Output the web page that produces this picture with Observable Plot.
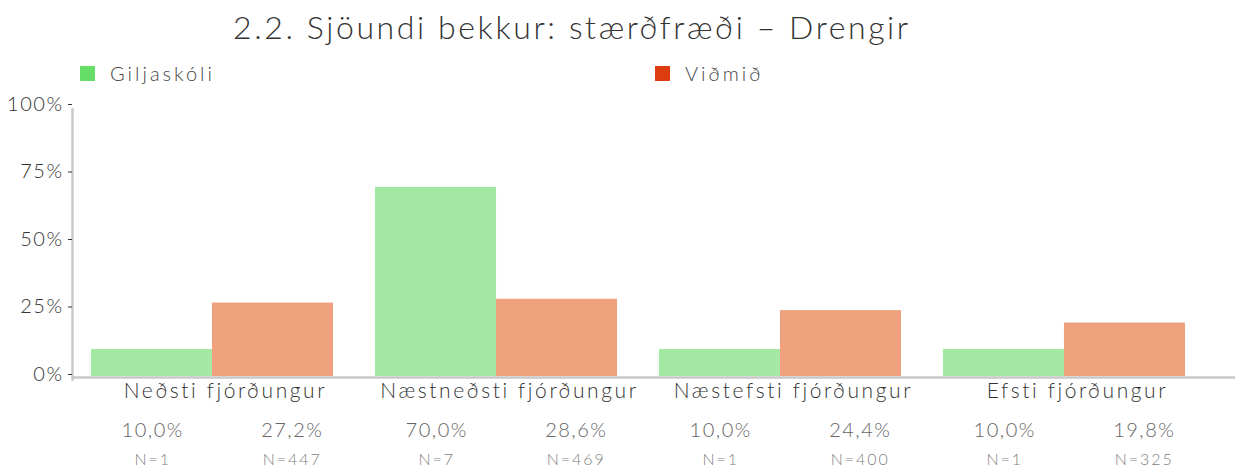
<!DOCTYPE html>
<html>
<head>
<meta charset="utf-8">
<script src="https://cdn.jsdelivr.net/npm/d3@7"></script>
<script src="https://cdn.jsdelivr.net/npm/@observablehq/plot@0.6"></script>
<style>
  html, body { margin: 0; padding: 0; background: #fff; }
  #wrap { position: relative; width: 1247px; height: 469px; font-family: Lato, "Open Sans", sans-serif; }
  #title { position: absolute; left: 233px; top: 7px; font-size: 32px; font-weight: 300; color: #333; letter-spacing: 2.6px; white-space: nowrap; }
  .leg { position: absolute; top: 61px; font-size: 20px; color: #444; letter-spacing: 3px; display: flex; align-items: center; white-space: nowrap; font-weight: 300; }
  .sw { width: 15px; height: 15px; margin-right: 15px; display: inline-block; }
  #chart { position: absolute; left: 0; top: 88px; }
</style>
</head>
<body>
<div id="wrap">
  <div id="title"></div>
  <div id="legend"></div>
  <div id="chart"></div>
</div>
<script>
const title = "2.2. Sjöundi bekkur: stærðfræði – Drengir";
const groups = ["Neðsti fjórðungur", "Næstneðsti fjórðungur", "Næstefsti fjórðungur", "Efsti fjórðungur"];
const series = ["Giljaskóli", "Viðmið"];
const giljaskoli = [10.0, 70.0, 10.0, 10.0];
const vidmid = [27.2, 28.6, 24.4, 19.8];
const nGiljaskoli = [1, 7, 1, 1];
const nVidmid = [447, 469, 400, 325];
const yTicks = [0, 25, 50, 75, 100];
const barColors = ["#a3e9a3", "#efa07c"];
const legendColors = ["#66dd66", "#dd3c10"];

document.getElementById("title").textContent = title;
const legend = document.getElementById("legend");
const legendX = [80, 655];
series.forEach((s, i) => {
  const el = document.createElement("div");
  el.className = "leg";
  el.style.left = legendX[i] + "px";
  el.innerHTML = `<span class="sw" style="background:${legendColors[i]}"></span><span>${s}</span>`;
  legend.appendChild(el);
});

const rows = groups.map((g, i) => ({
  group: g, gil: giljaskoli[i], vid: vidmid[i], ng: nGiljaskoli[i], nv: nVidmid[i]
}));

const W = 1247, H = 381, mL = 72, mR = 12, mT = 18, mB = 93;
const pIn = 0.147, pOut = 0.114, al = 0.28;
const band = d3.scaleBand(groups, [mL, W - mR]).paddingInner(pIn).paddingOuter(pOut).align(al);
const half = band.bandwidth() / 2;
const fmt = v => v.toFixed(1).replace(".", ",") + "%";

const chart = Plot.plot({
  width: W, height: H,
  marginLeft: mL, marginRight: mR, marginTop: mT, marginBottom: mB,
  style: { fontFamily: "Lato, 'Open Sans', sans-serif", background: "#fff", overflow: "visible" },
  x: { domain: groups, paddingInner: pIn, paddingOuter: pOut, align: al, axis: null },
  y: { domain: [0, 100], axis: null },
  marks: [
    Plot.barY(rows, { x: "group", y: "gil", fill: barColors[0], insetRight: half - 0.6, insetLeft: 0 }),
    Plot.barY(rows, { x: "group", y: "vid", fill: barColors[1], insetLeft: half - 0.6, insetRight: 0 }),
    Plot.ruleY([0], { stroke: "#c8c8c8", strokeWidth: 2.5, dy: 1 }),
    Plot.frame({ anchor: "left", stroke: "#c8c8c8", strokeWidth: 2.5, dy: 3 }),
    Plot.axisY({ ticks: yTicks, tickFormat: d => d + "%", tickSize: 4, tickPadding: 5, fontSize: 20, fontWeight: 300, dy: -2, color: "#333" }),
    Plot.text(rows, { x: "group", text: "group", frameAnchor: "bottom", dy: 21, dx: 13, fontSize: 21, fill: "#333", fontWeight: 300, style: "letter-spacing:2.6px" }),
    Plot.text(rows, { x: "group", text: d => fmt(d.gil), frameAnchor: "bottom", dy: 60, dx: -half / 2 + 1, fontSize: 20, fill: "#666", fontWeight: 300 }),
    Plot.text(rows, { x: "group", text: d => fmt(d.vid), frameAnchor: "bottom", dy: 60, dx: half / 2 + 19, fontSize: 20, fill: "#666", fontWeight: 300 }),
    Plot.text(rows, { x: "group", text: d => "N=" + d.ng, frameAnchor: "bottom", dy: 88, dx: -half / 2 + 1, fontSize: 16, fill: "#808080", fontWeight: 300 }),
    Plot.text(rows, { x: "group", text: d => "N=" + d.nv, frameAnchor: "bottom", dy: 88, dx: half / 2 + 19, fontSize: 16, fill: "#808080", fontWeight: 300 })
  ]
});
chart.style.letterSpacing = "1.5px";
// wider tracking for the category labels, as in the reference
d3.select(chart).selectAll("g[aria-label='text']").filter((d, i) => i === 0).style("letter-spacing", "2.6px");
d3.select(chart).selectAll("g[aria-label='text']").filter((d, i) => i >= 3).style("letter-spacing", "2px");
document.getElementById("chart").appendChild(chart);
</script>
</body>
</html>
